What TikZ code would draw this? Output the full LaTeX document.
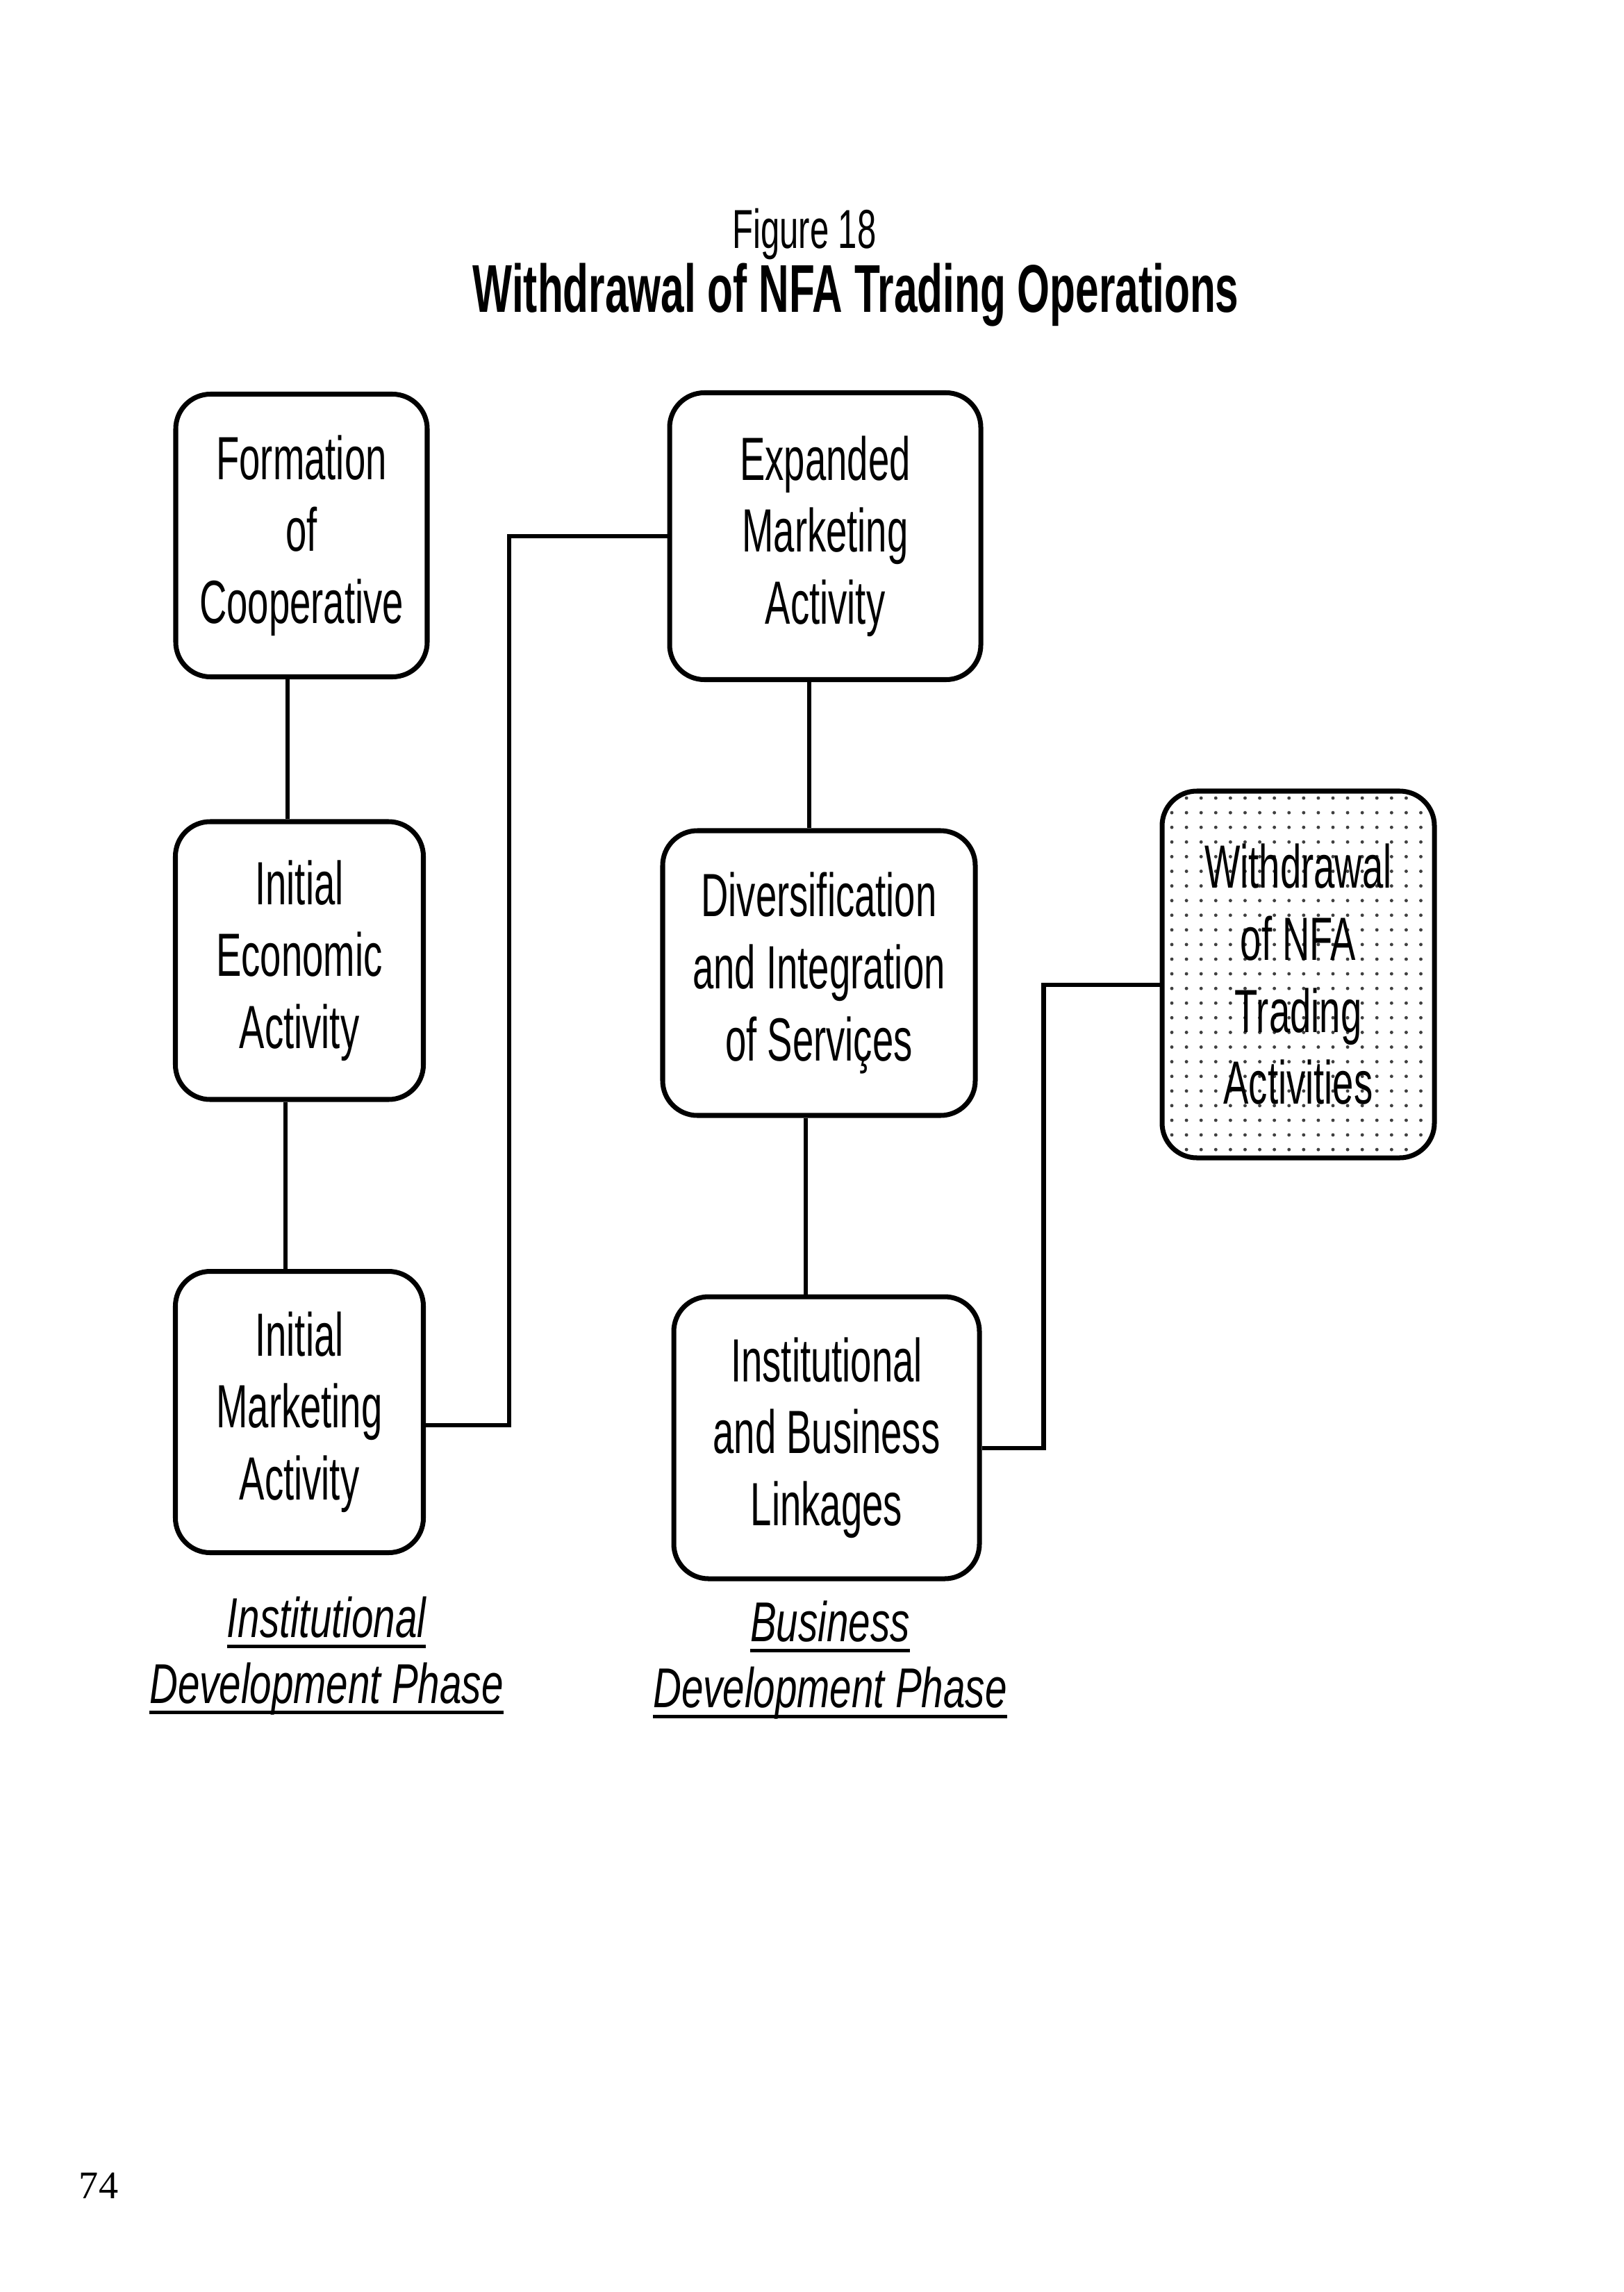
\documentclass[tikz,border=0pt]{standalone}
\usepackage{fontspec}
\setmainfont{Liberation Serif}
\newfontfamily\narrowfont[FakeStretch=0.62]{Liberation Sans}
\newfontfamily\phasefont[FakeStretch=0.7]{Liberation Sans}
\usetikzlibrary{patterns.meta}
\newcommand{\phaseul}[1]{\leavevmode\setbox0\hbox{#1}\rlap{\rule[-4.5pt]{\wd0}{1.5pt}}\box0}

\tikzset{
  stage/.style={draw, line width=2pt, rounded corners=0.5cm, align=center, inner sep=2pt,
    font=\narrowfont\fontsize{25}{29.5}\selectfont},
  link/.style={line width=1.8pt},
  phase/.style={align=center, font=\phasefont\itshape\fontsize{23}{27}\selectfont},
}

\begin{document}
\begin{tikzpicture}
  \useasboundingbox (0,0) rectangle (23.37,-33);
  \node[anchor=base, font=\narrowfont\fontsize{22.5}{26}\selectfont] (fig) at (11.58,-3.58) {Figure 18};
  \node[anchor=base, font=\narrowfont\bfseries\fontsize{27.7}{32}\selectfont] (title) at (12.32,-4.50)
    {Withdrawal of NFA Trading Operations};
  % institutional column
  \node[stage, minimum width=3.62cm, minimum height=4.07cm] (formation) at (4.34,-7.71) {Formation\\of\\Cooperative};
  \node[stage, minimum width=3.57cm, minimum height=4.00cm] (economic) at (4.31,-13.83) {Initial\\Economic\\Activity};
  \node[stage, minimum width=3.57cm, minimum height=4.05cm] (marketing) at (4.31,-20.33) {Initial\\Marketing\\Activity};
  % business column
  \node[stage, minimum width=4.48cm, minimum height=4.13cm] (expanded) at (11.88,-7.72) {Expanded\\Marketing\\Activity};
  \node[stage, minimum width=4.50cm, minimum height=4.10cm] (diversify) at (11.79,-14.01) {Diversification\\and Integration\\of Serviçes};
  \node[stage, minimum width=4.40cm, minimum height=4.06cm] (linkages) at (11.90,-20.70) {Institutional\\and Business\\Linkages};
  \node[stage, minimum width=3.92cm, minimum height=5.28cm,
    pattern={Dots[distance=6pt,radius=0.7pt]}, pattern color=black!75] (withdrawal) at (18.69,-14.03)
    {Withdrawal\\of NFA\\Trading\\Activities};
  \draw[link] ([xshift=-0.2cm]formation.south) -- ([xshift=-0.2cm]formation.south |- economic.north);
  \draw[link] ([xshift=-0.2cm]economic.south) -- ([xshift=-0.2cm]economic.south |- marketing.north);
  \draw[link] ([yshift=-0.19cm]marketing.east) -- ++(1.20,0) |- (expanded.west);
  \draw[link] ([xshift=-0.23cm]expanded.south) -- ([xshift=-0.23cm]expanded.south |- diversify.north);
  \draw[link] ([xshift=-0.19cm]diversify.south) -- ([xshift=-0.19cm]diversify.south |- linkages.north);
  \draw[link] ([yshift=-0.15cm]linkages.east) -- ++(0.89,0) |- ([yshift=-0.15cm]withdrawal.west);
  \node[phase] (instphase) at (4.70,-23.84) {\phaseul{Institutional}\\\phaseul{Development Phase}};
  \node[phase] (busphase) at (11.95,-23.90) {\phaseul{Business}\\\phaseul{Development Phase}};
  \node[font=\fontsize{16}{19}\selectfont] (page) at (1.42,-31.47) {74};
\end{tikzpicture}
\end{document}
